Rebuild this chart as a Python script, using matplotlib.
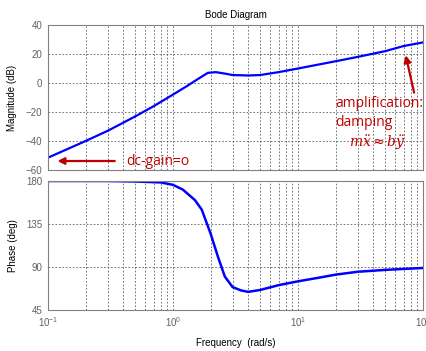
import matplotlib

matplotlib.use("Agg")
import matplotlib.pyplot as plt
import numpy as np
from matplotlib.ticker import LogLocator, NullFormatter

# magnitude curve
mag_freq = [0.1, 0.2, 0.3, 0.5, 0.7, 1.0, 1.3, 1.6, 1.9, 2.2, 2.6, 3.0, 4.0, 5.0, 7.0, 10, 20, 30, 50, 70, 100]
mag_db = [-51.5, -40, -33, -23, -16, -8, -2, 3, 7, 7.5, 6.5, 5.5, 5.2, 5.5, 7.5, 10, 15, 18, 22, 25.5, 28]

# phase curve
ph_freq = [0.1, 0.3, 0.5, 0.8, 1.0, 1.2, 1.5, 1.7, 2.0, 2.3, 2.6, 3.0, 3.5, 4.0, 5.0, 7.0, 10, 15, 20, 30, 50, 100]
ph_deg = [180, 180, 179.5, 178.5, 176, 171, 160, 150, 125, 100, 80, 69, 65.5, 64, 66, 71, 75, 79, 82, 85, 87, 89]

mag_ticks = [-60, -40, -20, 0, 20, 40]
ph_ticks = [45, 90, 135, 180]

RED = "#c00000"
BLUE = "#0000ff"
GRAY = "#606060"

plt.rcParams["font.family"] = ["Liberation Sans", "DejaVu Sans"]

fig = plt.figure(figsize=(4.27, 3.51), dpi=100)
ax1 = fig.add_axes([0.1124, 0.5157, 0.878, 0.413])
ax2 = fig.add_axes([0.1124, 0.1168, 0.878, 0.3675])


def style(ax):
    ax.set_xscale("log")
    ax.set_xlim(0.1, 100)
    ax.xaxis.set_major_locator(LogLocator(base=10))
    ax.xaxis.set_minor_locator(LogLocator(base=10, subs=np.arange(2, 10)))
    ax.xaxis.set_minor_formatter(NullFormatter())
    grid = dict(ls=(0, (2.5, 2.5)), color="#444444", lw=0.5)
    ax.grid(True, which="both", axis="x", **grid)
    ax.grid(True, which="major", axis="y", **grid)
    ax.tick_params(which="both", direction="in", length=0, labelsize=7, colors=GRAY, pad=4)
    for sp in ax.spines.values():
        sp.set_color("#808080")
        sp.set_linewidth(0.8)


style(ax1)
ax1.plot(mag_freq, mag_db, color=BLUE, lw=1.6)
ax1.set_ylim(-60, 40)
ax1.set_yticks(mag_ticks)
ax1.tick_params(axis="x", labelbottom=False)
ax1.set_ylabel("Magnitude (dB)", fontsize=7, labelpad=6)
ax1.set_title("Bode Diagram", fontsize=7, pad=5)

style(ax2)
ax2.plot(ph_freq, ph_deg, color=BLUE, lw=1.8)
ax2.set_ylim(45, 180)
ax2.set_yticks(ph_ticks)
ax2.set_ylabel("Phase (deg)", fontsize=7, labelpad=6)
ax2.set_xlabel("Frequency  (rad/s)", fontsize=7, labelpad=6)

# annotations
ann_font = ["Open Sans", "DejaVu Sans"]
ax1.annotate("", xy=(0.113, -53.8), xytext=(0.36, -53.8),
             arrowprops=dict(arrowstyle="-|>", color=RED, lw=1.6, mutation_scale=10))
ax1.text(0.42, -53.8, "dc-gain=o", color=RED, fontsize=10, family=ann_font, va="center", ha="left")

ax1.annotate("", xy=(72, 21), xytext=(86, -8.5),
             arrowprops=dict(arrowstyle="-|>", color=RED, lw=1.6, mutation_scale=10),
             annotation_clip=False)
ax1.text(20, -14, "amplification:", color=RED, fontsize=10, family=ann_font, va="center", ha="left",
         clip_on=False)
ax1.text(20, -27.5, "damping", color=RED, fontsize=10, family=ann_font, va="center", ha="left")
ax1.text(25.5, -41.5, r"$m\ddot{x} \approx b\ddot{y}$", color=RED, fontsize=10, va="center", ha="left",
         math_fontfamily="dejavuserif")

fig.savefig("out.png", dpi=100)
